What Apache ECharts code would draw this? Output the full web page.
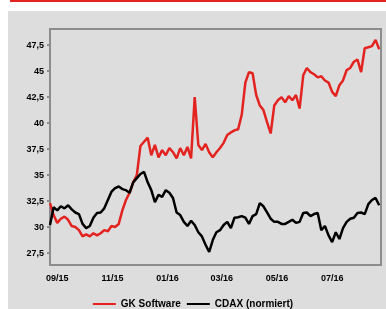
<!DOCTYPE html>
<html lang="de">
<head>
    <meta charset="UTF-8">
    <title>GK Software vs CDAX</title>
    <style>
        body, html {
            margin: 0;
            padding: 0;
            width: 100%;
            height: 100%;
            background: #fff;
        }

        #main {
            width: 386px;
            height: 309px;
        }
    </style>
</head>
<body>
<div id="main"></div>
<script src="https://cdn.jsdelivr.net/npm/echarts@6/dist/echarts.min.js"></script>
<script>

    // Kurse, ein Wert alle 4 Tage ab 24.08.2015
    let gkSoftware = [
        32.3, 31.15, 30.4, 30.8, 31.0, 30.7, 30.1, 30.0, 29.7, 29.1,
        29.3, 29.1, 29.4, 29.2, 29.4, 29.7, 29.6, 30.1, 30.0, 30.3,
        31.6, 32.6, 33.3, 34.3, 35.0, 37.8, 38.2, 38.6, 36.9, 37.9,
        36.7, 37.4, 36.9, 37.6, 37.2, 36.6, 37.6, 36.9, 37.7, 36.6,
        42.5, 37.9, 37.4, 38.0, 37.2, 36.7, 37.2, 37.6, 38.1, 38.85,
        39.1, 39.3, 39.4, 40.8, 43.9, 44.9, 44.8, 42.7, 41.7, 41.25,
        40.1, 39.0, 41.7, 42.2, 42.5, 42.0, 42.6, 42.2, 42.7, 41.4,
        44.6, 45.3, 44.9, 44.7, 44.4, 44.5, 44.1, 43.9, 43.0, 42.6,
        43.65, 44.1, 45.1, 45.3, 45.9, 46.1, 44.9, 47.2, 47.3, 47.4,
        48.0, 47.1
    ];
    let cdax = [
        30.2, 31.9, 31.6, 32.0, 31.8, 32.1, 31.7, 31.4, 31.25, 30.3,
        29.9, 30.1, 30.9, 31.35, 31.4, 31.8, 32.6, 33.4, 33.75, 33.9,
        33.65, 33.55, 33.3, 34.3, 34.7, 35.1, 35.3, 34.3, 33.55, 32.4,
        33.1, 32.9, 33.55, 33.3, 32.8, 31.4, 31.15, 30.5, 30.1, 30.6,
        30.2, 29.5, 29.1, 28.3, 27.6, 28.75, 29.5, 29.7, 30.2, 30.5,
        29.9, 30.9, 30.95, 31.05, 30.9, 30.3, 31.05, 31.25, 32.3, 32.0,
        31.4, 30.8, 30.5, 30.5, 30.3, 30.3, 30.5, 30.7, 30.4, 30.5,
        31.35, 31.4, 31.05, 31.25, 31.35, 29.7, 30.1, 29.2, 28.55, 29.5,
        28.85, 29.9, 30.5, 30.8, 30.9, 31.35, 31.4, 31.25, 32.2, 32.6,
        32.8, 32.1
    ];
    let stepDays = 4;

    // Achsenbeschriftung
    let xTickDays = [8, 69, 130, 190, 251, 312];
    let xTickLabels = ['09/15', '11/15', '01/16', '03/16', '05/16', '07/16'];
    let yTicks = [27.5, 30, 32.5, 35, 37.5, 40, 42.5, 45, 47.5];

    function toPairs(arr) {
        return arr.map(function (v, i) {
            return [i * stepDays, v];
        });
    }

    let myChart = echarts.init(document.getElementById('main'));
    let option = {
        animation: false,
        backgroundColor: '#fff',
        textStyle: {
            fontFamily: 'Liberation Sans, Arial, sans-serif'
        },
        graphic: [
            {
                type: 'rect',
                z: -10,
                shape: {x: 10, y: 0, width: 376, height: 2},
                style: {fill: '#e3231f'}
            },
            {
                type: 'rect',
                z: -10,
                shape: {x: 8, y: 11, width: 378, height: 298},
                style: {fill: '#dddddd'}
            }
        ],
        grid: {
            left: 50,
            top: 29,
            right: 5,
            bottom: 44,
            show: true,
            borderColor: '#8c8c8c',
            borderWidth: 2,
            backgroundColor: 'transparent'
        },
        legend: {
            top: 294,
            left: 'center',
            icon: 'rect',
            itemWidth: 23,
            itemHeight: 2,
            itemGap: 6,
            textStyle: {
                fontSize: 10,
                fontWeight: 'bold',
                color: '#000'
            },
            data: ['GK Software', 'CDAX (normiert)']
        },
        xAxis: {
            type: 'value',
            min: 0,
            max: 366,
            axisLine: {show: true, lineStyle: {color: '#8c8c8c', width: 2}},
            axisTick: {show: false},
            splitLine: {show: false},
            axisLabel: {
                customValues: xTickDays,
                margin: 9,
                fontSize: 9,
                fontWeight: 'bold',
                color: '#000',
                formatter: function (v) {
                    let idx = xTickDays.indexOf(v);
                    return idx >= 0 ? xTickLabels[idx] : '';
                }
            }
        },
        yAxis: {
            type: 'value',
            min: 26.35,
            max: 49.05,
            axisLine: {show: true, lineStyle: {color: '#8c8c8c', width: 2}},
            axisTick: {
                show: true,
                customValues: yTicks,
                length: 3,
                lineStyle: {color: '#8c8c8c', width: 2}
            },
            splitLine: {show: false},
            axisLabel: {
                customValues: yTicks,
                margin: 6,
                fontSize: 9,
                fontWeight: 'bold',
                color: '#000',
                formatter: function (v) {
                    return String(v).replace('.', ',');
                }
            }
        },
        series: [
            {
                name: 'GK Software',
                type: 'line',
                showSymbol: false,
                data: toPairs(gkSoftware),
                itemStyle: {color: '#e3231f'},
                lineStyle: {color: '#e3231f', width: 2.5}
            },
            {
                name: 'CDAX (normiert)',
                type: 'line',
                showSymbol: false,
                data: toPairs(cdax),
                itemStyle: {color: '#000'},
                lineStyle: {color: '#000', width: 2.5}
            }
        ]
    };

    myChart.setOption(option);

</script>
</body>
</html>
